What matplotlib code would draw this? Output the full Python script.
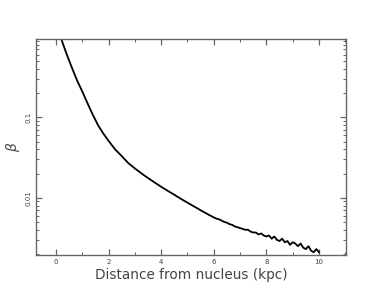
import matplotlib
matplotlib.use("Agg")
import matplotlib.pyplot as plt
from matplotlib.ticker import FixedLocator, LogLocator, NullFormatter, FixedFormatter

# Data
distance_kpc = [0.2, 0.4, 0.6, 0.8, 1.0, 1.2, 1.4, 1.6, 1.8, 2.0, 2.25, 2.5, 2.75,
                3.0, 3.25, 3.5, 3.75, 4.0, 4.25, 4.5, 4.75, 5.0, 5.25, 5.5, 5.75,
                6.0, 6.1, 6.2, 6.3, 6.4, 6.5, 6.6, 6.7, 6.8, 6.9, 7.0, 7.1, 7.2,
                7.3, 7.4, 7.5, 7.6, 7.7, 7.8, 7.9, 8.0, 8.1, 8.2, 8.3, 8.4, 8.5,
                8.6, 8.7, 8.8, 8.9, 9.0, 9.1, 9.2, 9.3, 9.4, 9.5, 9.6, 9.7, 9.8,
                9.9, 10.0]
beta = [0.95, 0.62, 0.42, 0.29, 0.21, 0.150, 0.108, 0.080, 0.063, 0.051, 0.040,
        0.033, 0.027, 0.0232, 0.0201, 0.0176, 0.0155, 0.0137, 0.0122, 0.0109,
        0.0097, 0.0087, 0.0078, 0.0070, 0.0063,
        0.0057, 0.0055, 0.0054, 0.0052, 0.0050, 0.0049, 0.0047, 0.0046, 0.0044,
        0.0043, 0.0042, 0.0041, 0.0040, 0.0040, 0.0038, 0.0037, 0.0037, 0.0035,
        0.0036, 0.0034, 0.0033, 0.0034, 0.0031, 0.0033, 0.0030, 0.0029, 0.0031,
        0.0028, 0.0029, 0.0026, 0.0028, 0.0027, 0.0025, 0.0027, 0.0024, 0.0023,
        0.0025, 0.0022, 0.0021, 0.0023, 0.0021]

x_ticks = [0, 2, 4, 6, 8, 10]
x_tick_labels = ["0", "2", "4", "6", "8", "10"]
y_ticks = [0.1, 0.01]
y_tick_labels = ["0.1", "0.01"]

fig = plt.figure(figsize=(3.82, 2.95), dpi=100)
ax = fig.add_axes([0.094, 0.136, 0.812, 0.733])
ax.plot(distance_kpc, beta, color="black", lw=1.3)
ax.set_yscale("log")
ax.set_xlim(-0.76, 11.03)
ax.set_ylim(0.00195, 0.95)

gray = "#444444"
for s in ax.spines.values():
    s.set_color("#666666")
    s.set_linewidth(1.0)

ax.xaxis.set_major_locator(FixedLocator(x_ticks))
ax.xaxis.set_major_formatter(FixedFormatter(x_tick_labels))
ax.xaxis.set_minor_locator(FixedLocator([1, 3, 5, 7, 9, 11]))
ax.yaxis.set_major_locator(FixedLocator(y_ticks))
ax.yaxis.set_major_formatter(FixedFormatter(y_tick_labels))
ax.yaxis.set_minor_locator(LogLocator(base=10, subs=range(2, 10)))
ax.yaxis.set_minor_formatter(NullFormatter())

ax.tick_params(which="both", direction="in", top=True, right=True, color="#666666")
ax.tick_params(which="major", length=4, width=0.9, labelsize=5, labelcolor=gray, pad=3)
ax.tick_params(which="minor", length=2, width=0.7)
for lab in ax.get_yticklabels():
    lab.set_rotation(90)
    lab.set_va("center")

ax.set_xlabel("Distance from nucleus (kpc)", fontsize=9.8, color=gray, labelpad=2)
ax.set_ylabel(r"$\beta$", fontsize=10, color=gray, labelpad=3)

fig.savefig("out.png", dpi=100)
